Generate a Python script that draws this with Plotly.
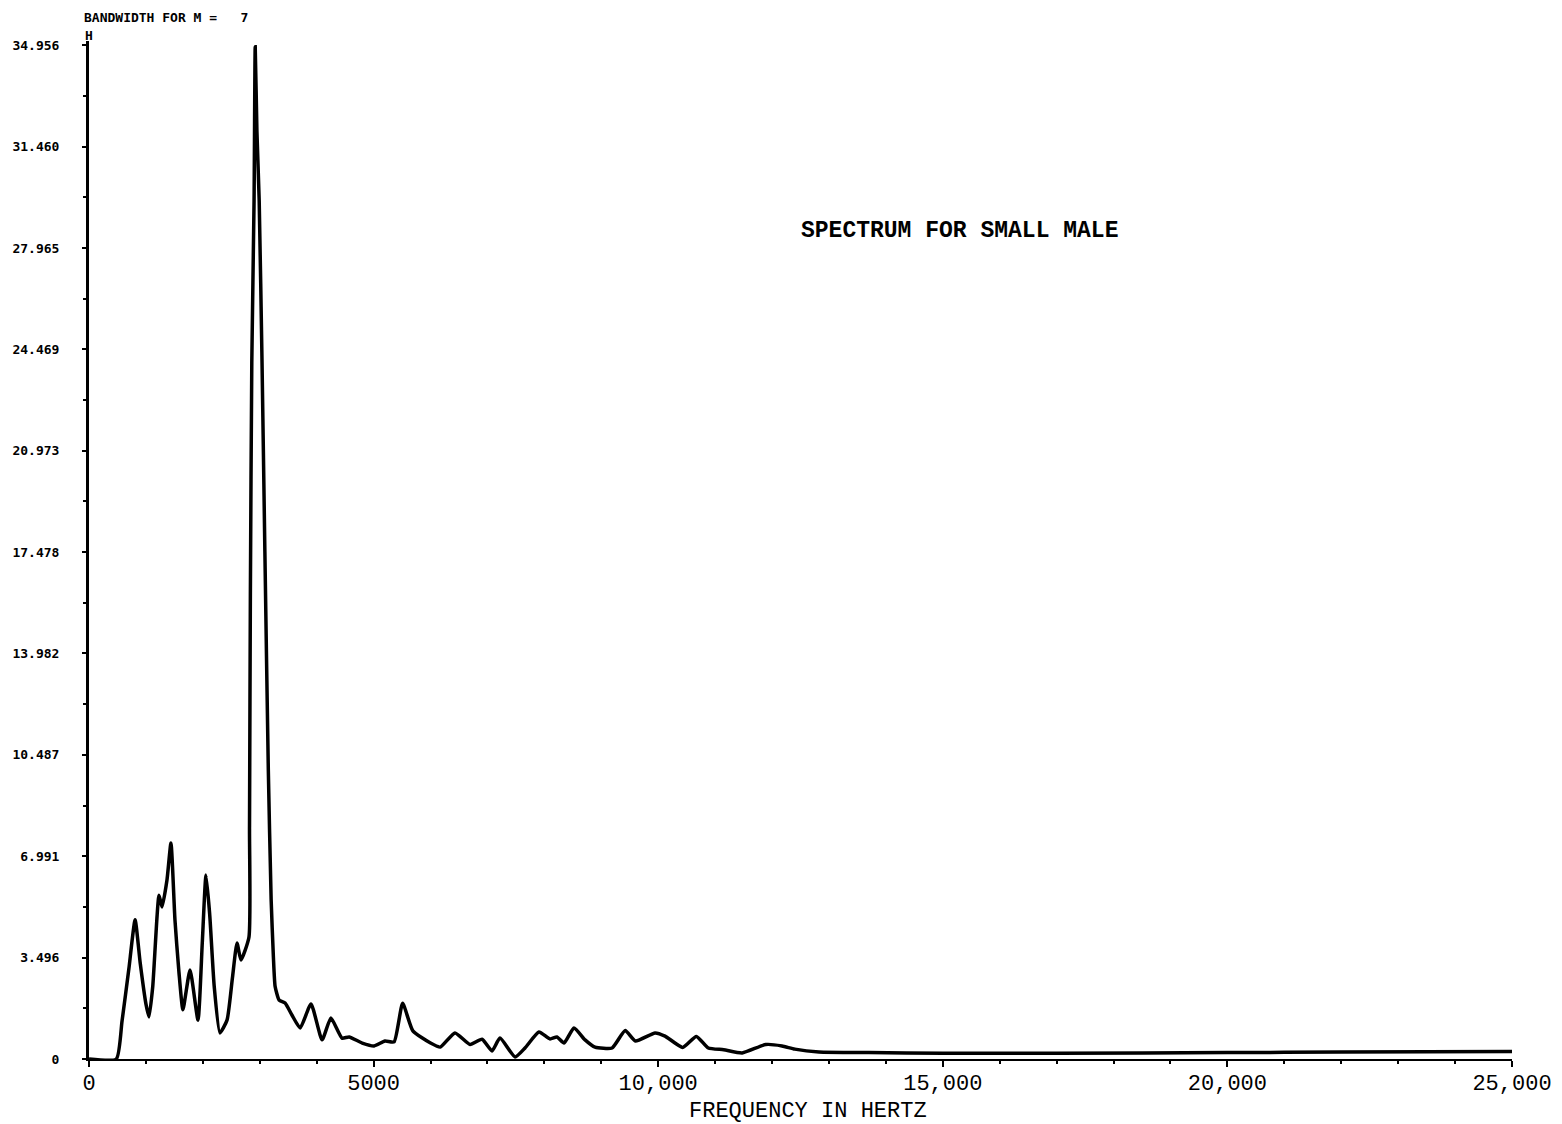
import plotly.graph_objects as go

# Frequency (Hz) and spectral amplitude
freq_hz = [0, 480, 580, 700, 810, 900, 1000, 1054, 1120, 1230, 1283, 1370, 1440, 1510,
           1580, 1650, 1775, 1915, 1990, 2055, 2120, 2200, 2300, 2425, 2520, 2600, 2670,
           2810, 2820, 2835, 2860, 2900, 2920, 2950, 2990, 3040, 3090, 3150, 3200, 3240,
           3270, 3340, 3445, 3570, 3710, 3900, 4095, 4250, 4445, 4570, 4800, 5010, 5200,
           5360, 5510, 5690, 6000, 6170, 6430, 6695, 6905, 7080, 7220, 7485, 7660, 7905,
           8100, 8220, 8345, 8520, 8715, 8890, 9190, 9420, 9600, 9945, 10120, 10430,
           10670, 10880, 11150, 11475, 11890, 12175, 12400, 12825, 13700, 15000, 17000,
           20000, 22000, 25000]
amplitude = [0, 0, 1.3, 3.1, 4.8, 3.3, 1.9, 1.45, 2.5, 5.65, 5.24, 6.17, 7.45, 4.8,
             3.0, 1.7, 3.07, 1.34, 4.0, 6.34, 5.0, 2.5, 0.9, 1.34, 2.8, 4.0, 3.41,
             4.2, 8.0, 16.0, 24.0, 29.6, 34.9, 32.0, 29.6, 24.0, 17.5, 10.0, 5.5, 3.5,
             2.5, 2.03, 1.93, 1.5, 1.07, 1.9, 0.66, 1.41, 0.72, 0.76, 0.55, 0.45, 0.62,
             0.59, 1.92, 0.97, 0.55, 0.41, 0.9, 0.5, 0.68, 0.28, 0.72, 0.07, 0.38, 0.93,
             0.69, 0.76, 0.55, 1.07, 0.66, 0.41, 0.38, 0.98, 0.62, 0.9, 0.79, 0.4,
             0.78, 0.38, 0.32, 0.21, 0.5, 0.45, 0.34, 0.24, 0.22, 0.2, 0.2,
             0.22, 0.24, 0.26]

x_tick_vals = [0, 5000, 10000, 15000, 20000, 25000]
x_tick_text = ["0", "5000", "10,000", "15,000", "20,000", "25,000"]
y_tick_vals = [0, 3.4956, 6.9912, 10.4868, 13.9824, 17.478, 20.9736, 24.4692, 27.9648, 31.4604, 34.956]
y_tick_text = ["0", "3.496", "6.991", "10.487", "13.982", "17.478", "20.973",
               "24.469", "27.965", "31.460", "34.956"]

title_text = "SPECTRUM FOR SMALL MALE"
x_title = "FREQUENCY IN HERTZ"
header_text = "BANDWIDTH FOR M =\u00a0\u00a0\u00a07"

ML, MR, MT, MB = 81, 58, 33, 73
W, H = 1562, 1124

fig = go.Figure()
fig.add_trace(go.Scatter(x=freq_hz, y=amplitude, mode="lines",
                         line=dict(color="black", width=3.5, shape="spline", smoothing=0.5),
                         showlegend=False, hoverinfo="x+y"))

fig.update_layout(
    width=W, height=H,
    margin=dict(l=ML, r=MR, t=MT, b=MB),
    paper_bgcolor="white", plot_bgcolor="white",
    font=dict(family="Liberation Mono", color="black"),
    xaxis=dict(range=[0, 25000], tickvals=x_tick_vals, ticktext=x_tick_text, automargin=False,
               showgrid=False, zeroline=False, showline=True, linecolor="black", linewidth=1.5,
               ticks="outside", ticklen=6, tickwidth=2, tickcolor="black",
               minor=dict(dtick=1000, ticks="outside", ticklen=3, tickwidth=1.5, tickcolor="black"),
               ticklabelstandoff=-3,
               tickfont=dict(family="Liberation Mono", size=22, color="black")),
    yaxis=dict(range=[0, 35.1], tickvals=y_tick_vals, ticktext=y_tick_text, automargin=False,
               showgrid=False, zeroline=False, showline=True, linecolor="black", linewidth=3,
               ticks="outside", ticklen=4, tickwidth=2, tickcolor="black",
               minor=dict(tickvals=[1.7478 + 3.4956 * i for i in range(10)], ticks="outside",
                          ticklen=3, tickwidth=1.5, tickcolor="black"),
               ticklabelstandoff=20,
               tickfont=dict(family="DejaVu Sans Mono", size=13, color="black", weight="bold")),
    annotations=[
        dict(text=title_text, x=15300, y=28.55, xref="x", yref="y", showarrow=False,
             font=dict(family="Liberation Mono", size=23, color="black", weight="bold")),
        dict(text=x_title, x=12630, y=0, xref="x", yref="paper", yshift=-52, showarrow=False,
             yanchor="middle",
             font=dict(family="Liberation Mono", size=22, color="black")),
        dict(text=header_text, x=74, y=9, xref="paper", yref="paper", showarrow=False,
             xanchor="left", yanchor="middle",
             font=dict(family="DejaVu Sans Mono", size=13, color="black", weight="bold")),
        dict(text="H", x=81, y=28, xref="paper", yref="paper", showarrow=False,
             xanchor="center", yanchor="middle",
             font=dict(family="DejaVu Sans Mono", size=13, color="black", weight="bold")),
    ],
)
# convert pixel positions for header annotations into paper coords
for ann in fig.layout.annotations[2:]:
    px, py = ann.x, ann.y
    ann.x = (px - ML) / (W - ML - MR)
    ann.y = 1 - (py - MT) / (H - MT - MB)

fig.write_html("out.html")
